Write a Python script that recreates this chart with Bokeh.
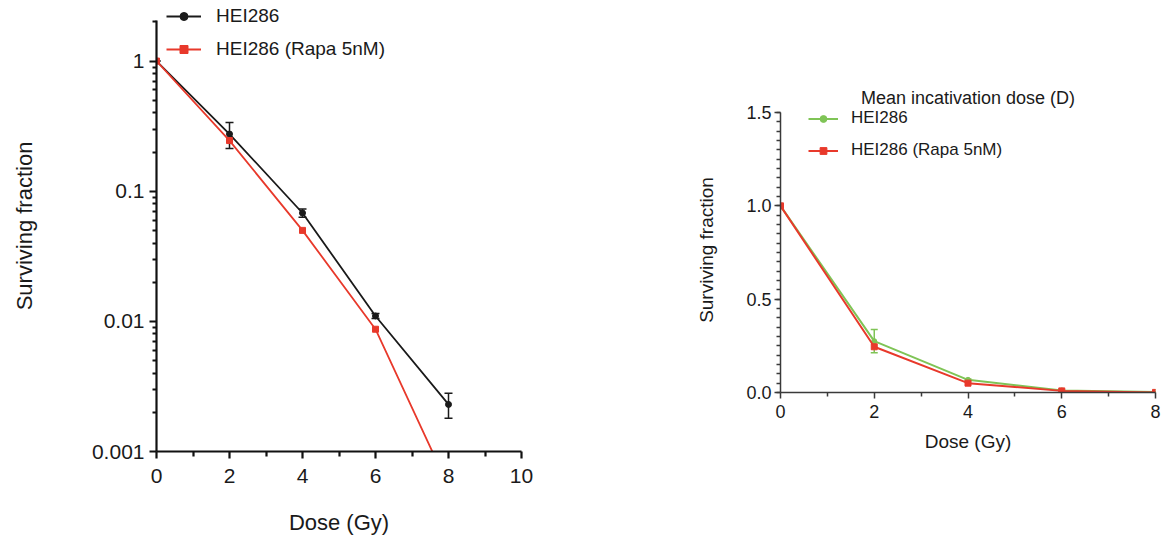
from bokeh.plotting import figure
from bokeh.layouts import row
from bokeh.models import (ColumnDataSource, Whisker, TeeHead, Legend, LegendItem,
                          FixedTicker, Range1d)
from bokeh.embed import file_html
from bokeh.resources import INLINE

# ---- data ----
dose = [0, 2, 4, 6, 8]
sf_ctrl = [1.0, 0.275, 0.068, 0.011, 0.0023]
sf_ctrl_err = [0.0, 0.062, 0.005, 0.0005, 0.0005]
sf_rapa = [1.0, 0.245, 0.050, 0.0087, 0.00054]
label_ctrl = "HEI286"
label_rapa = "HEI286 (Rapa 5nM)"
log_major = [0.001, 0.01, 0.1, 1]
log_labels = ["0.001", "0.01", "0.1", "1"]

FONT = "Liberation Sans"
BLACK = "#1a1a1a"
RED = "#e8392b"
GREEN = "#7fc456"

src = ColumnDataSource(dict(
    x=dose, ctrl=sf_ctrl, rapa=sf_rapa,
    up=[v + e for v, e in zip(sf_ctrl, sf_ctrl_err)],
    lo=[v - e for v, e in zip(sf_ctrl, sf_ctrl_err)],
))


def style_axes(p, lw, color, tick_font, label_font):
    for ax in (p.xaxis[0], p.yaxis[0]):
        ax.axis_line_width = lw
        ax.axis_line_color = color
        ax.major_tick_line_width = lw
        ax.major_tick_line_color = color
        ax.minor_tick_line_width = lw
        ax.minor_tick_line_color = color
        ax.major_tick_in = 0
        ax.minor_tick_in = 0
        ax.major_label_text_font = FONT
        ax.major_label_text_font_size = tick_font
        ax.major_label_text_color = "#1a1a1a"
        ax.axis_label_text_font = FONT
        ax.axis_label_text_font_size = label_font
        ax.axis_label_text_font_style = "normal"
        ax.axis_label_text_color = "#1a1a1a"
    p.grid.visible = False
    p.outline_line_color = None


# ---- left: log scale ----
# frame reaches the top of the page so that the legend above the axis is not clipped;
# the axis itself stops at 2.05 through its bounds
p1 = figure(width=560, height=537, y_axis_type="log", output_backend="svg",
            toolbar_location=None, x_range=Range1d(0, 10), y_range=Range1d(0.001, 2.92),
            min_border_left=156, min_border_right=39, min_border_top=0,
            min_border_bottom=86)
p1.frame_align = False
style_axes(p1, 2.2, "#111111", "21px", "22px")
minor_log = []
for d in [0.001, 0.01, 0.1, 1]:
    for k in range(2, 10):
        if d * k <= 2.05:
            minor_log.append(d * k)
p1.yaxis[0].ticker = FixedTicker(ticks=log_major, minor_ticks=minor_log)
p1.yaxis[0].bounds = (0.001, 2.05)
p1.yaxis[0].major_label_overrides = {t: s for t, s in zip(log_major, log_labels)}
p1.xaxis[0].ticker = FixedTicker(ticks=[0, 2, 4, 6, 8, 10], minor_ticks=[1, 3, 5, 7, 9])
p1.xaxis[0].major_tick_out = 7
p1.xaxis[0].minor_tick_out = 5
p1.yaxis[0].major_tick_out = 7
p1.yaxis[0].minor_tick_out = 4
p1.xaxis[0].major_label_standoff = 10
p1.yaxis[0].major_label_standoff = 5
p1.xaxis[0].axis_label = "Dose (Gy)"
p1.yaxis[0].axis_label = "Surviving fraction"
p1.xaxis[0].axis_label_standoff = 24
p1.yaxis[0].axis_label_standoff = 52

l1 = p1.line("x", "ctrl", source=src, line_color=BLACK, line_width=1.8)
s1 = p1.scatter("x", "ctrl", source=src, marker="circle", size=6, color=BLACK)
p1.add_layout(Whisker(base="x", upper="up", lower="lo", source=src, line_color=BLACK,
                      line_width=1.5,
                      upper_head=TeeHead(size=8, line_color=BLACK, line_width=1.5),
                      lower_head=TeeHead(size=8, line_color=BLACK, line_width=1.5)))
l2 = p1.line("x", "rapa", source=src, line_color=RED, line_width=1.8)
s2 = p1.scatter("x", "rapa", source=src, marker="square", size=6, color=RED)
leg1 = Legend(items=[LegendItem(label=label_ctrl, renderers=[l1, s1]),
                     LegendItem(label=label_rapa, renderers=[l2, s2])],
              location=(10, 391), padding=0, margin=0, spacing=11,
              glyph_width=35, glyph_height=20, label_height=20, label_standoff=15,
              label_text_font=FONT, label_text_font_size="19px",
              label_text_color="#1a1a1a",
              background_fill_alpha=0, border_line_alpha=0)
p1.add_layout(leg1, "center")

# ---- right: linear scale ----
p2 = figure(width=602, height=537, output_backend="svg", toolbar_location=None,
            x_range=Range1d(0, 8), y_range=Range1d(0, 1.527),
            min_border_left=220, min_border_right=7, min_border_top=107,
            min_border_bottom=145,
            title="Mean incativation dose (D)")
p2.frame_align = False
style_axes(p2, 1.5, "#3a3a3a", "18px", "19px")
p2.title.text_font = FONT
p2.title.text_font_size = "18px"
p2.title.text_font_style = "normal"
p2.title.align = "center"
p2.title.text_color = "#1a1a1a"
p2.title.standoff = 0
p2.yaxis[0].ticker = FixedTicker(ticks=[0, 0.5, 1.0, 1.5],
                                 minor_ticks=[i * 0.05 for i in range(31)])
p2.yaxis[0].bounds = (0, 1.5)
p2.yaxis[0].major_label_overrides = {0: "0.0", 0.5: "0.5", 1.0: "1.0", 1.5: "1.5"}
p2.xaxis[0].ticker = FixedTicker(ticks=[0, 2, 4, 6, 8], minor_ticks=[1, 3, 5, 7])
p2.xaxis[0].major_tick_out = 6
p2.xaxis[0].minor_tick_out = 4
p2.yaxis[0].major_tick_out = 6
p2.yaxis[0].minor_tick_out = 4
p2.xaxis[0].major_label_standoff = 6
p2.yaxis[0].major_label_standoff = 3
p2.xaxis[0].axis_label = "Dose (Gy)"
p2.yaxis[0].axis_label = "Surviving fraction"
p2.xaxis[0].axis_label_standoff = 10
p2.yaxis[0].axis_label_standoff = 26

g1 = p2.line("x", "ctrl", source=src, line_color=GREEN, line_width=2)
gs1 = p2.scatter("x", "ctrl", source=src, marker="circle", size=5, color=GREEN)
p2.add_layout(Whisker(base="x", upper="up", lower="lo", source=src, line_color=GREEN,
                      line_width=1.5,
                      upper_head=TeeHead(size=7, line_color=GREEN, line_width=1.5),
                      lower_head=TeeHead(size=7, line_color=GREEN, line_width=1.5)))
g2 = p2.line("x", "rapa", source=src, line_color=RED, line_width=2)
gs2 = p2.scatter("x", "rapa", source=src, marker="square", size=6, color=RED)
leg2 = Legend(items=[LegendItem(label=label_ctrl, renderers=[g1, gs1]),
                     LegendItem(label=label_rapa, renderers=[g2, gs2])],
              location=(28, 232), padding=0, margin=0, spacing=12,
              glyph_width=30, glyph_height=17, label_height=17, label_standoff=13,
              label_text_font=FONT, label_text_font_size="17px",
              label_text_color="#1a1a1a",
              background_fill_alpha=0, border_line_alpha=0)
p2.add_layout(leg2, "center")

layout = row(p1, p2, spacing=0)
open("out.html", "w").write(file_html(layout, INLINE))
